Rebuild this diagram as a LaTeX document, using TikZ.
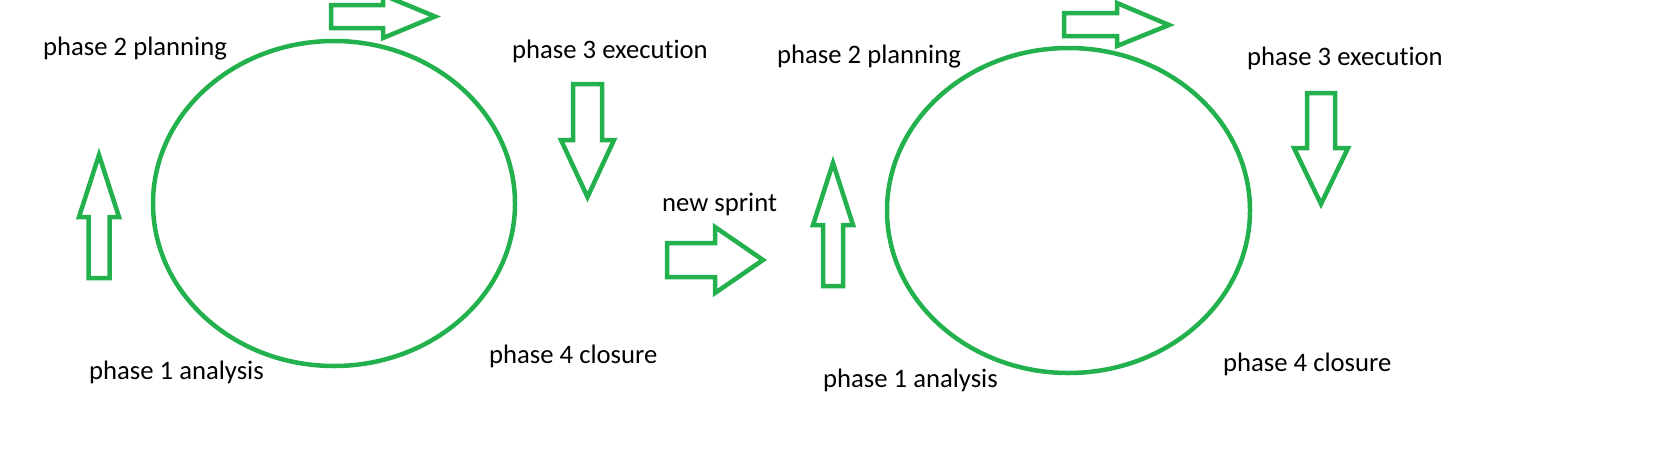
\documentclass[tikz,border=0pt]{standalone}
\usepackage{fontspec}
\setmainfont{Carlito}[Ligatures=CommonOff]
\definecolor{paintgreen}{RGB}{34,177,76}

\begin{document}
\begin{tikzpicture}[x=1pt, y=-1pt,
    phase/.style={
        anchor=base west,
        inner sep=0pt,
        font=\fontsize{26.67}{32}\selectfont
    },
    loopline/.style={draw=paintgreen, line width=4.5pt},
    blockarrow/.style={draw=paintgreen, line width=4.5pt, line join=miter}
]
\useasboundingbox (0,0) rectangle (1677,451);

% Sprint 1
\draw [loopline] (334,203.5) ellipse [x radius=181, y radius=162.5];

\node (planninga) [phase] at (43,55) {phase 2 planning};
\node (executiona) [phase] at (512,58) {phase 3 execution};
\node (closurea) [phase] at (489,363) {phase 4 closure};
\node (analysisa) [phase] at (89,379) {phase 1 analysis};

% up
\draw [blockarrow] (88.5,278) -- (109.5,278) -- (109.5,217) -- (119,217)
    -- (99,155) -- (79,217) -- (88.5,217) -- cycle;
% right
\draw [blockarrow] (331,5) -- (383,5) -- (383,-5) -- (435,16.5)
    -- (383,38) -- (383,28) -- (331,28) -- cycle;
% down
\draw [blockarrow] (573,84) -- (602,84) -- (602,140) -- (614,140)
    -- (587.5,197) -- (561,140) -- (573,140) -- cycle;

%-------------------------------------
% new sprint
\node (newsprint) [phase] at (662,211) {new sprint};
\draw [blockarrow] (667,243) -- (715,243) -- (715,227) -- (763,260)
    -- (715,293) -- (715,277) -- (667,277) -- cycle;

%-------------------------------------
% Sprint 2
\draw [loopline] (1068.5,210.5) ellipse [x radius=181.5, y radius=162.5];

\node (planningb) [phase] at (777,63) {phase 2 planning};
\node (executionb) [phase] at (1247,65) {phase 3 execution};
\node (closureb) [phase] at (1223,371) {phase 4 closure};
\node (analysisb) [phase] at (823,387) {phase 1 analysis};

% up
\draw [blockarrow] (823,286) -- (843,286) -- (843,225) -- (853,225)
    -- (833,163) -- (813,225) -- (823,225) -- cycle;
% right
\draw [blockarrow] (1064,13) -- (1117,13) -- (1117,3) -- (1169,25)
    -- (1117,46) -- (1117,36) -- (1064,36) -- cycle;
% down
\draw [blockarrow] (1307,93) -- (1335,93) -- (1335,148) -- (1348,148)
    -- (1321,204) -- (1294,148) -- (1307,148) -- cycle;

\end{tikzpicture}
\end{document}
